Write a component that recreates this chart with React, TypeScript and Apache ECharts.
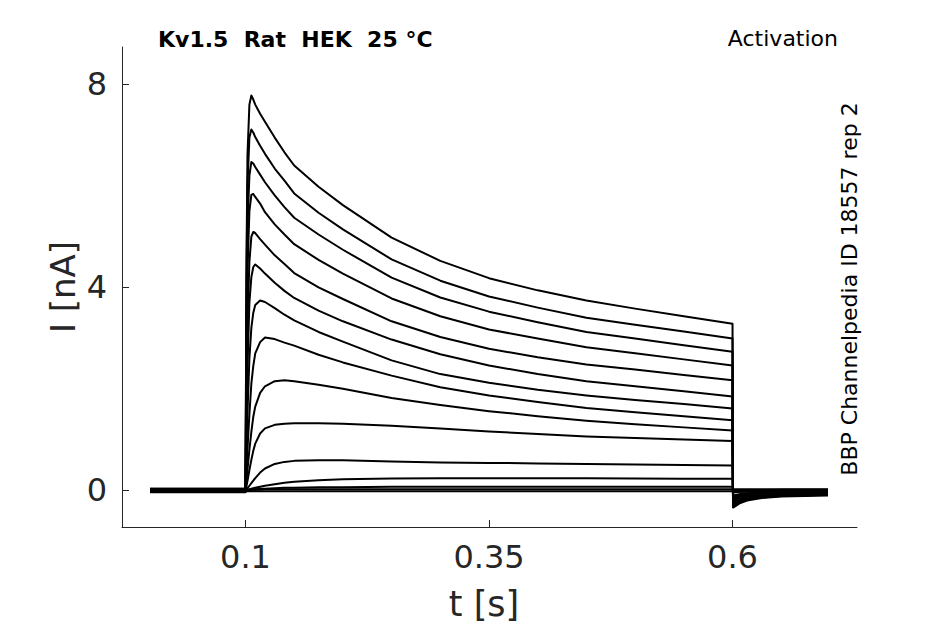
import React, { useEffect, useRef } from "react";
import * as echarts from "echarts";

// time samples (s)
const TIME = [0.002, 0.1, 0.101, 0.102, 0.104, 0.106, 0.108, 0.11, 0.115, 0.12, 0.13, 0.14, 0.15, 0.175, 0.2, 0.25, 0.3, 0.35, 0.4, 0.45, 0.5, 0.55, 0.6, 0.6005, 0.603, 0.608, 0.615, 0.63, 0.65, 0.698];

// current traces (nA), one per voltage step
const TRACE_01 = [-0.04, -0.04, 4.5, 6.6, 7.6, 7.78, 7.7, 7.6, 7.42, 7.26, 6.95, 6.66, 6.4, 5.98, 5.62, 4.98, 4.52, 4.18, 3.94, 3.74, 3.58, 3.43, 3.28, -0.34, -0.31, -0.25, -0.2, -0.15, -0.12, -0.1];
const TRACE_02 = [-0.03, -0.03, 4.2, 6.0, 6.95, 7.11, 7.05, 6.96, 6.79, 6.63, 6.34, 6.1, 5.85, 5.47, 5.14, 4.55, 4.13, 3.82, 3.6, 3.4, 3.26, 3.13, 2.99, -0.31, -0.28, -0.23, -0.18, -0.14, -0.11, -0.09];
const TRACE_03 = [-0.02, -0.02, 3.6, 5.2, 6.2, 6.47, 6.44, 6.37, 6.22, 6.07, 5.81, 5.58, 5.37, 5.04, 4.74, 4.19, 3.8, 3.52, 3.31, 3.12, 2.99, 2.86, 2.73, -0.28, -0.26, -0.21, -0.17, -0.12, -0.1, -0.08];
const TRACE_04 = [-0.01, -0.01, 2.9, 4.3, 5.5, 5.82, 5.84, 5.78, 5.65, 5.48, 5.24, 5.04, 4.85, 4.54, 4.27, 3.78, 3.43, 3.17, 2.99, 2.82, 2.7, 2.58, 2.46, -0.26, -0.23, -0.19, -0.15, -0.11, -0.09, -0.08];
const TRACE_05 = [0, 0, 2.0, 3.3, 4.5, 5.0, 5.09, 5.07, 4.95, 4.84, 4.63, 4.46, 4.28, 4.0, 3.77, 3.33, 3.02, 2.79, 2.62, 2.48, 2.38, 2.27, 2.17, -0.22, -0.2, -0.16, -0.13, -0.1, -0.08, -0.07];
const TRACE_06 = [0.01, 0.01, 1.3, 2.4, 3.7, 4.2, 4.4, 4.45, 4.37, 4.27, 4.09, 3.93, 3.79, 3.54, 3.33, 2.97, 2.68, 2.46, 2.29, 2.15, 2.05, 1.95, 1.85, -0.19, -0.17, -0.14, -0.11, -0.08, -0.07, -0.06];
const TRACE_07 = [0.02, 0.02, 0.8, 1.5, 2.6, 3.2, 3.5, 3.65, 3.74, 3.71, 3.59, 3.46, 3.35, 3.12, 2.93, 2.56, 2.29, 2.12, 1.98, 1.87, 1.78, 1.7, 1.61, -0.17, -0.15, -0.12, -0.1, -0.07, -0.06, -0.05];
const TRACE_08 = [0.03, 0.03, 0.4, 0.8, 1.5, 2.1, 2.45, 2.7, 2.92, 3.01, 2.98, 2.91, 2.85, 2.67, 2.52, 2.26, 2.03, 1.87, 1.74, 1.62, 1.54, 1.46, 1.38, -0.14, -0.13, -0.1, -0.08, -0.06, -0.05, -0.04];
const TRACE_09 = [0.03, 0.03, 0.2, 0.4, 0.8, 1.15, 1.45, 1.65, 1.92, 2.05, 2.15, 2.17, 2.15, 2.08, 2.0, 1.82, 1.68, 1.56, 1.46, 1.37, 1.3, 1.24, 1.18, -0.12, -0.11, -0.09, -0.07, -0.05, -0.04, -0.03];
const TRACE_10 = [0.02, 0.02, 0.08, 0.18, 0.4, 0.6, 0.78, 0.92, 1.12, 1.22, 1.29, 1.31, 1.32, 1.32, 1.31, 1.27, 1.22, 1.16, 1.11, 1.06, 1.03, 1.0, 0.97, -0.1, -0.09, -0.07, -0.06, -0.04, -0.03, -0.03];
const TRACE_11 = [0.01, 0.01, 0.02, 0.04, 0.09, 0.14, 0.19, 0.24, 0.35, 0.43, 0.52, 0.56, 0.58, 0.59, 0.59, 0.57, 0.55, 0.54, 0.53, 0.52, 0.51, 0.5, 0.49, -0.05, -0.04, -0.03, -0.02, -0.01, -0.01, 0];
const TRACE_12 = [0, 0, 0, 0.01, 0.02, 0.03, 0.04, 0.05, 0.07, 0.09, 0.12, 0.15, 0.17, 0.2, 0.22, 0.235, 0.24, 0.24, 0.24, 0.24, 0.235, 0.23, 0.23, -0.02, -0.02, -0.01, 0, 0, 0.01, 0.01];
const TRACE_13 = [-0.01, -0.01, 0, 0, 0.01, 0.01, 0.02, 0.02, 0.03, 0.03, 0.04, 0.05, 0.05, 0.06, 0.06, 0.07, 0.07, 0.07, 0.07, 0.07, 0.07, 0.07, 0.07, 0.02, 0.02, 0.02, 0.02, 0.02, 0.02, 0.02];
const TRACE_14 = [-0.02, -0.02, 0, 0, 0, 0.01, 0.01, 0.01, 0.01, 0.02, 0.02, 0.02, 0.02, 0.02, 0.02, 0.02, 0.02, 0.02, 0.02, 0.02, 0.02, 0.02, 0.02, 0, 0, 0, 0, 0, 0, 0];
const TRACE_15 = [-0.03, -0.03, -0.02, -0.02, -0.02, -0.02, -0.02, -0.02, -0.02, -0.02, -0.02, -0.02, -0.02, -0.02, -0.02, -0.02, -0.02, -0.02, -0.02, -0.02, -0.02, -0.02, -0.02, -0.03, -0.03, -0.03, -0.03, -0.02, -0.02, -0.02];

const TRACES = [TRACE_01, TRACE_02, TRACE_03, TRACE_04, TRACE_05, TRACE_06, TRACE_07, TRACE_08, TRACE_09, TRACE_10, TRACE_11, TRACE_12, TRACE_13, TRACE_14, TRACE_15];

const X_TICKS = [0.1, 0.35, 0.6];
const Y_TICKS = [0, 4, 8];

const TITLE = "Kv1.5  Rat  HEK  25 °C";
const PROTOCOL = "Activation";
const SOURCE = "BBP Channelpedia ID 18557 rep 2";
const X_NAME = "t [s]";
const Y_NAME = "I [nA]";

const FONT = '"DejaVu Sans", sans-serif';
const AXIS_COLOR = "#262626";

export default function App() {
  const ref = useRef<HTMLDivElement>(null);

  useEffect(() => {
    if (!ref.current) return;
    const chart = echarts.init(ref.current, null, { renderer: "svg" });
    const option: any = {
      animation: false,
      backgroundColor: "#ffffff",
      grid: {
        left: 122,
        top: 47,
        right: 88,
        bottom: 97,
        containLabel: false,
        outerBoundsMode: "none",
      },
      xAxis: {
        type: "value",
        min: -0.0268,
        max: 0.7278,
        axisLine: { show: true, onZero: false, lineStyle: { color: AXIS_COLOR, width: 1 } },
        axisTick: { show: true, inside: true, length: 7, customValues: X_TICKS, lineStyle: { color: AXIS_COLOR, width: 1 } },
        axisLabel: {
          customValues: X_TICKS,
          formatter: (v: number) => String(v),
          fontSize: 32,
          fontFamily: FONT,
          color: AXIS_COLOR,
          margin: 14,
        },
        splitLine: { show: false },
      },
      yAxis: {
        type: "value",
        min: -0.723,
        max: 8.735,
        axisLine: { show: true, onZero: false, lineStyle: { color: AXIS_COLOR, width: 1 } },
        axisTick: { show: true, inside: true, length: 7, customValues: Y_TICKS, lineStyle: { color: AXIS_COLOR, width: 1 } },
        axisLabel: {
          customValues: Y_TICKS,
          formatter: (v: number) => String(v),
          fontSize: 32,
          fontFamily: FONT,
          color: AXIS_COLOR,
          margin: 15,
        },
        splitLine: { show: false },
      },
      series: TRACES.map((vals, k) => ({
        type: "line",
        name: "trace " + (k + 1),
        data: TIME.map((t, i) => [t, vals[i]]),
        showSymbol: false,
        symbol: "none",
        silent: true,
        lineStyle: { color: "#000000", width: 2, join: "round" },
      })),
      graphic: [
        {
          type: "text",
          x: 158,
          y: 39.5,
          style: { text: TITLE, font: "bold 22px " + FONT, fill: "#000", align: "left", verticalAlign: "middle" },
        },
        {
          type: "text",
          x: 838,
          y: 38.5,
          style: { text: PROTOCOL, font: "22px " + FONT, fill: "#000", align: "right", verticalAlign: "middle" },
        },
        {
          type: "text",
          x: 849,
          y: 289,
          rotation: Math.PI / 2,
          style: { text: SOURCE, font: "22px " + FONT, fill: "#000", align: "center", verticalAlign: "middle" },
        },
        {
          type: "text",
          x: 484,
          y: 604,
          style: { text: X_NAME, font: "35px " + FONT, fill: AXIS_COLOR, align: "center", verticalAlign: "middle" },
        },
        {
          type: "text",
          x: 63,
          y: 287,
          rotation: Math.PI / 2,
          style: { text: Y_NAME, font: "34px " + FONT, fill: AXIS_COLOR, align: "center", verticalAlign: "middle" },
        },
      ],
    };
    chart.setOption(option);
    return () => chart.dispose();
  }, []);

  return (
    <div
      ref={ref}
      style={{ position: "absolute", left: 0, top: 0, width: 945, height: 624, background: "#fff" }}
    />
  );
}
